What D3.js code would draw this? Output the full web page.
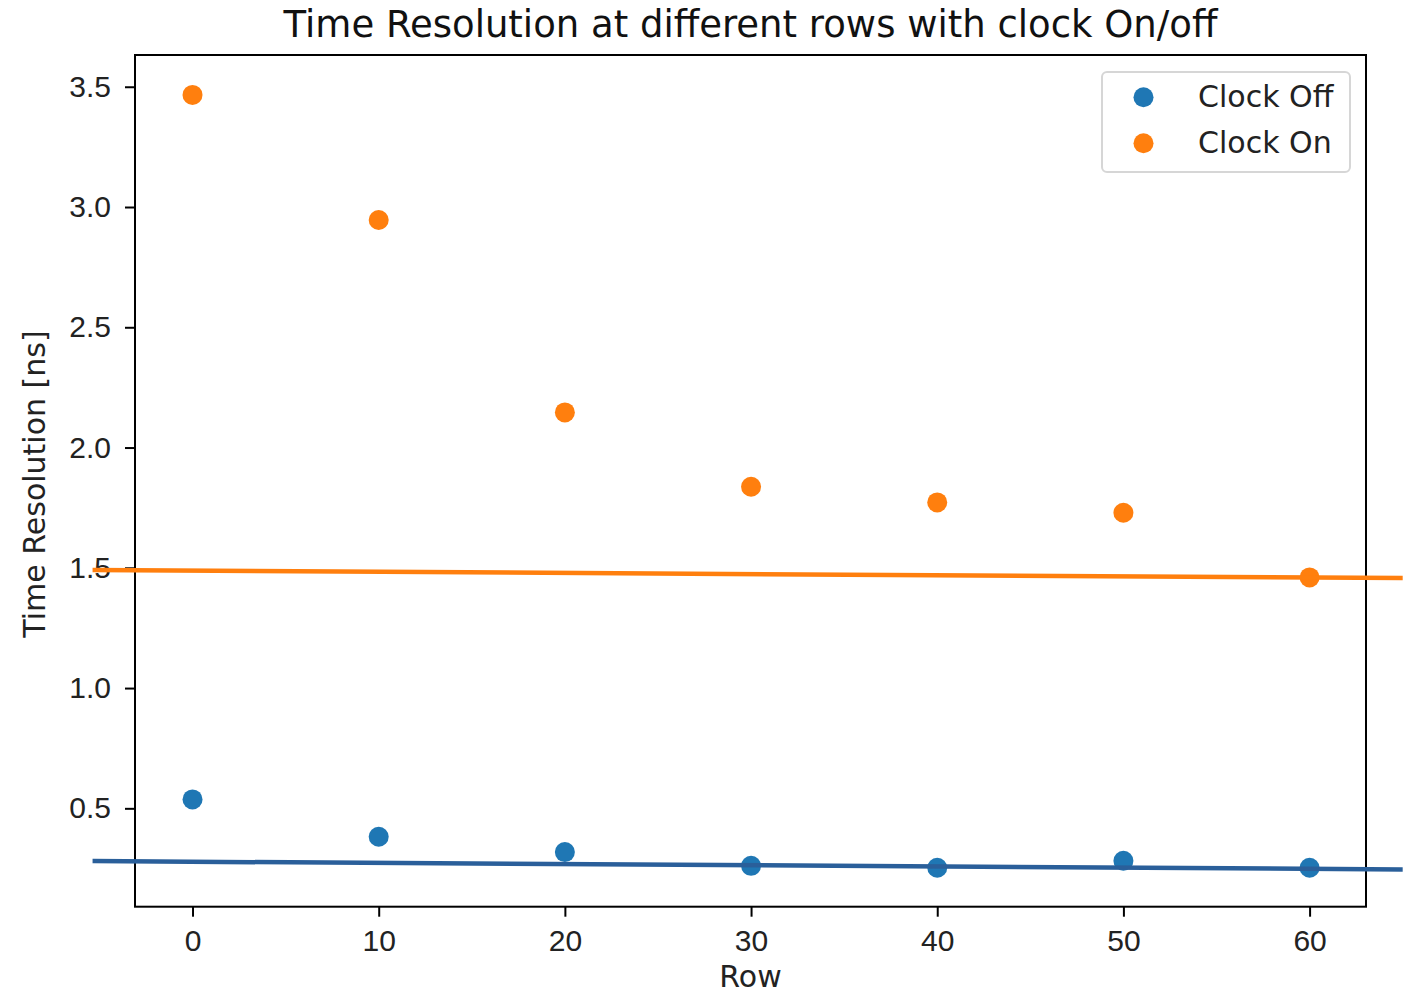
<!DOCTYPE html>
<html>
<head>
<meta charset="utf-8">
<script src="https://cdn.jsdelivr.net/npm/d3@7"></script>
<style>
  html, body { margin: 0; padding: 0; background: #fff; }
  svg { display: block; font-family: "DejaVu Sans", sans-serif; }
</style>
</head>
<body>
<svg id="chart" width="1403" height="996"></svg>
<script>
// Measured rows and time resolution values (ns)
const rows = [0, 10, 20, 30, 40, 50, 60];
const clockOff = [0.537, 0.382, 0.318, 0.261, 0.253, 0.282, 0.253];
const clockOn = [3.466, 2.946, 2.146, 1.837, 1.772, 1.729, 1.460];

// Linear fit lines, given at their two end rows
const fitRows = [-5.37, 65.0];
const fitOff = [0.2806, 0.2461];
const fitOn = [1.4906, 1.4574];

const xTicks = [0, 10, 20, 30, 40, 50, 60];
const yTicks = [0.5, 1.0, 1.5, 2.0, 2.5, 3.0, 3.5];

const seriesNames = ["Clock Off", "Clock On"];
const colors = ["#1f77b4", "#ff7f0e"];
const lineColors = ["#2a5f9a", "#ff7f0e"];

const plotLeft = 135, plotRight = 1366, plotTop = 55, plotBottom = 906.7;

const svg = d3.select("#chart");

const x = d3.scaleLinear().domain([-3.09, 63.03]).range([plotLeft, plotRight]);
const y = d3.scaleLinear().domain([0.091, 3.632]).range([plotBottom, plotTop]);

// Axes
const xAxis = d3.axisBottom(x).tickValues(xTicks).tickFormat(d3.format("d"))
  .tickSize(10).tickPadding(7).tickSizeOuter(0);
const yAxis = d3.axisLeft(y).tickValues(yTicks).tickFormat(d3.format(".1f"))
  .tickSize(10).tickPadding(14).tickSizeOuter(0);

const gx = svg.append("g").attr("transform", `translate(0,${plotBottom})`).call(xAxis);
const gy = svg.append("g").attr("transform", `translate(${plotLeft},0)`).call(yAxis);
[gx, gy].forEach(g => {
  g.select(".domain").remove();
  g.selectAll(".tick line").attr("stroke", "#000").attr("stroke-width", 2);
  g.selectAll(".tick text").attr("fill", "#222").style("font-size", "30px");
});
gx.selectAll(".tick text").attr("dy", "0.9em");

// Frame
svg.append("rect")
  .attr("x", plotLeft).attr("y", plotTop)
  .attr("width", plotRight - plotLeft).attr("height", plotBottom - plotTop)
  .attr("fill", "none").attr("stroke", "#000").attr("stroke-width", 2);

// Scatter points
const series = [clockOff, clockOn];
series.forEach((vals, i) => {
  svg.append("g").selectAll("circle")
    .data(rows.map((r, k) => [r, vals[k]]))
    .join("circle")
    .attr("cx", d => x(d[0]))
    .attr("cy", d => y(d[1]))
    .attr("r", 10)
    .attr("fill", colors[i]);
});

// Fit lines (drawn past the axes, unclipped)
const line = d3.line().x(d => x(d[0])).y(d => y(d[1]));
[fitOff, fitOn].forEach((vals, i) => {
  svg.append("path")
    .datum(fitRows.map((r, k) => [r, vals[k]]))
    .attr("d", line)
    .attr("fill", "none")
    .attr("stroke", lineColors[i])
    .attr("stroke-width", 4.5);
});

// Title and axis labels
svg.append("text")
  .attr("x", (plotLeft + plotRight) / 2).attr("y", 37)
  .attr("text-anchor", "middle")
  .attr("fill", "#111")
  .style("font-size", "37px")
  .text("Time Resolution at different rows with clock On/off");

svg.append("text")
  .attr("x", (plotLeft + plotRight) / 2).attr("y", 987)
  .attr("text-anchor", "middle")
  .attr("fill", "#222")
  .style("font-size", "30px")
  .text("Row");

svg.append("text")
  .attr("transform", "translate(45,484) rotate(-90)")
  .attr("text-anchor", "middle")
  .attr("fill", "#222")
  .style("font-size", "30px")
  .text("Time Resolution [ns]");

// Legend
const lg = svg.append("g");
lg.append("rect")
  .attr("x", 1102).attr("y", 72)
  .attr("width", 248).attr("height", 100)
  .attr("rx", 5)
  .attr("fill", "#fff").attr("fill-opacity", 0.8)
  .attr("stroke", "#d6d6d6").attr("stroke-width", 2);
seriesNames.forEach((name, i) => {
  const cy = 97.3 + i * 46;
  lg.append("circle").attr("cx", 1143.5).attr("cy", cy).attr("r", 10).attr("fill", colors[i]);
  lg.append("text")
    .attr("x", 1198).attr("y", cy + 10)
    .attr("fill", "#222")
    .style("font-size", "30px")
    .text(name);
});
</script>
</body>
</html>
